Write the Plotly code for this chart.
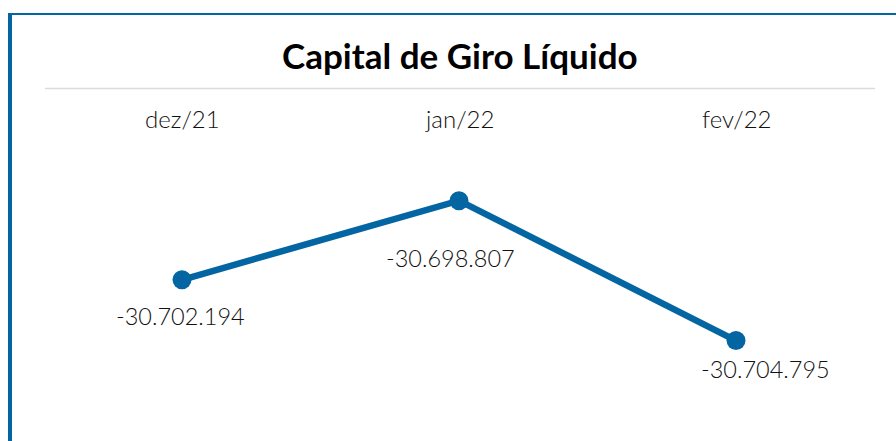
import plotly.graph_objects as go

categories = ["dez/21", "jan/22", "fev/22"]
values = [-30702194, -30698807, -30704795]
title_text = "Capital de Giro Líquido"

W, H = 896, 441
BLUE = "#0366A3"
FONT = "Lato"

def py(px):
    return 1 - px / H

def px_x(px):
    return px / W

fig = go.Figure()
fig.add_trace(go.Scatter(
    x=categories, y=values, mode="lines+markers",
    line=dict(color=BLUE, width=6.5),
    marker=dict(color=BLUE, size=19, symbol="circle"),
    hoverinfo="skip", cliponaxis=False,
))

label_shifts = [(-1.5, -36), (-9, -57), (29, -28)]
annotations = []
for c, v, (dx, dy) in zip(categories, values, label_shifts):
    annotations.append(dict(
        x=c, y=v, xref="x", yref="y", text=f"{v:,}".replace(",", "."),
        showarrow=False, xshift=dx, yshift=dy, xanchor="center", yanchor="middle",
        font=dict(family=FONT, size=23.5, color="#111111", weight=300),
    ))
    annotations.append(dict(
        x=c, y=py(119), xref="x", yref="paper", text=c, showarrow=False,
        xanchor="center", yanchor="middle",
        font=dict(family=FONT, size=24, color="#111111", weight=300),
    ))
annotations.append(dict(
    x=px_x(459.5), y=py(55), xref="paper", yref="paper", text=f"<b>{title_text}</b>",
    showarrow=False, xanchor="center", yanchor="middle",
    font=dict(family=FONT, size=35, color="#000000"),
))

shapes = [
    dict(type="line", xref="paper", yref="paper", x0=px_x(10), x1=px_x(10), y0=py(13), y1=py(441),
         line=dict(color=BLUE, width=4)),
    dict(type="line", xref="paper", yref="paper", x0=px_x(8), x1=1, y0=py(14), y1=py(14),
         line=dict(color=BLUE, width=2)),
    dict(type="line", xref="paper", yref="paper", x0=px_x(45), x1=px_x(875), y0=py(88.5), y1=py(88.5),
         line=dict(color="#dcdcdc", width=1.5)),
]

fig.update_layout(
    width=W, height=H, margin=dict(l=0, r=0, t=0, b=0),
    paper_bgcolor="white", plot_bgcolor="rgba(0,0,0,0)",
    showlegend=False, annotations=annotations, shapes=shapes,
    xaxis=dict(domain=[px_x(43.5), px_x(874.5)], range=[-0.5, 2.5], visible=False, fixedrange=True),
    yaxis=dict(domain=[0, 1], range=[-30709095, -30690217], visible=False, fixedrange=True),
)

fig.write_html(
    "out.html",
    config={"displayModeBar": False},
    post_script="document.body.style.margin='0';document.body.style.overflow='hidden';",
)
